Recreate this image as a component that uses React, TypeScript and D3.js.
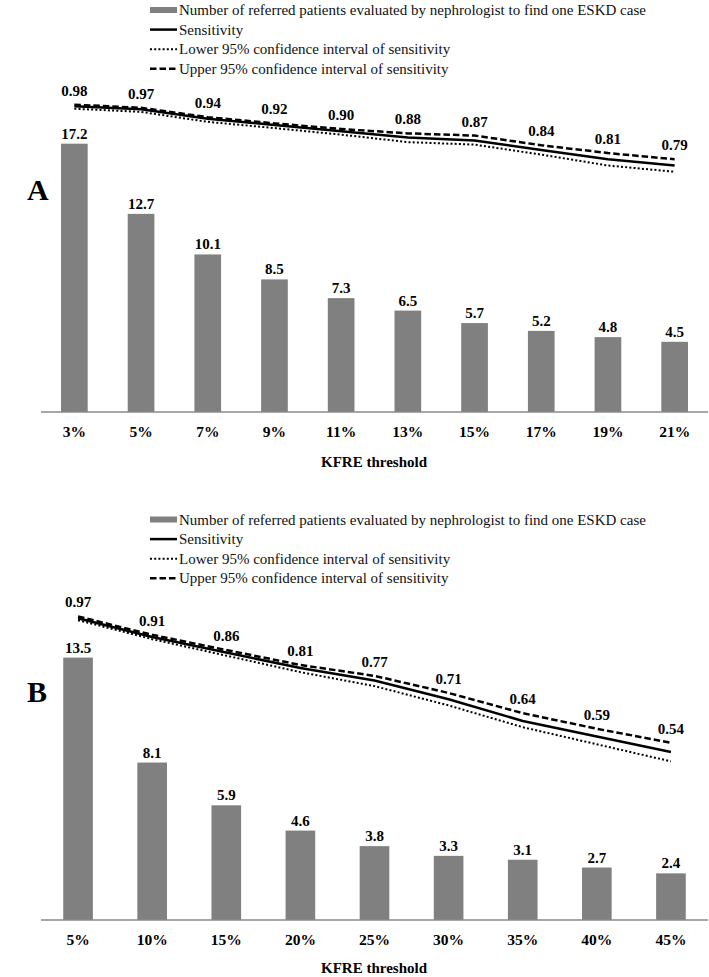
import React from 'react';
import * as d3 from 'd3';

const catsA = ['3%', '5%', '7%', '9%', '11%', '13%', '15%', '17%', '19%', '21%'];
const nnrA = [17.2, 12.7, 10.1, 8.5, 7.3, 6.5, 5.7, 5.2, 4.8, 4.5];
const sensA = [0.98, 0.97, 0.94, 0.92, 0.9, 0.88, 0.87, 0.84, 0.81, 0.79];
const upperA = [0.985, 0.975, 0.945, 0.925, 0.907, 0.893, 0.886, 0.855, 0.83, 0.81];
const lowerA = [0.972, 0.962, 0.93, 0.91, 0.889, 0.865, 0.857, 0.825, 0.79, 0.77];

const catsB = ['5%', '10%', '15%', '20%', '25%', '30%', '35%', '40%', '45%'];
const nnrB = [13.5, 8.1, 5.9, 4.6, 3.8, 3.3, 3.1, 2.7, 2.4];
const sensB = [0.97, 0.91, 0.86, 0.81, 0.77, 0.71, 0.64, 0.59, 0.54];
const upperB = [0.976, 0.917, 0.868, 0.82, 0.785, 0.73, 0.665, 0.615, 0.57];
const lowerB = [0.964, 0.903, 0.85, 0.797, 0.752, 0.69, 0.62, 0.565, 0.51];

const legendLabels = [
  'Number of referred patients evaluated by nephrologist to find one ESKD case',
  'Sensitivity',
  'Lower 95% confidence interval of sensitivity',
  'Upper 95% confidence interval of sensitivity',
];

const FONT = "'Liberation Serif', 'DejaVu Serif', 'Times New Roman', serif";
const BAR = '#808080';

type PanelProps = {
  letter: string;
  cats: string[];
  nnr: number[];
  sens: number[];
  upper: number[];
  lower: number[];
  top: number;
  bottom: number;
  yMax: number;
  legendY: number;
  tickY: number;
  titleY: number;
  letterY: number;
};

const bold = { fontFamily: FONT, fontWeight: 700 as const };

function Panel(p: PanelProps) {
  const x = d3.scaleBand<string>().domain(p.cats).range([41, 708]).paddingInner(0.6).paddingOuter(0.3);
  const yBar = d3.scaleLinear().domain([0, p.yMax]).range([p.bottom, p.top]);
  const ySens = d3.scaleLinear().domain([0, 1]).range([p.bottom, p.top]);
  const cx = (c: string) => (x(c) as number) + x.bandwidth() / 2;
  const line = d3
    .line<number>()
    .x((_, i) => cx(p.cats[i]))
    .y((d) => ySens(d));

  const lx0 = 150;
  const lx1 = 177;
  const rowGap = 19.6;
  return (
    <g>
      {/* legend */}
      <g>
        <rect x={lx0} y={p.legendY - 3} width={lx1 - lx0} height={6} fill={BAR} />
        <line x1={lx0} x2={lx1} y1={p.legendY + rowGap} y2={p.legendY + rowGap} stroke="#000" strokeWidth={2.5} />
        <line x1={lx0} x2={lx1} y1={p.legendY + rowGap * 2} y2={p.legendY + rowGap * 2} stroke="#000" strokeWidth={2} strokeDasharray="2,2.2" />
        <line x1={lx0} x2={lx1} y1={p.legendY + rowGap * 3} y2={p.legendY + rowGap * 3} stroke="#000" strokeWidth={2.5} strokeDasharray="6.5,3" />
        {legendLabels.map((t, i) => (
          <text
            key={t}
            x={179}
            y={p.legendY + rowGap * i}
            dominantBaseline="central"
            style={{ fontFamily: FONT, fontSize: 15 }}
            fill="#111"
          >
            {t}
          </text>
        ))}
      </g>

      {/* panel letter */}
      <text x={27} y={p.letterY} style={{ ...bold, fontSize: 30 }} fill="#000">
        {p.letter}
      </text>

      {/* bars */}
      {p.cats.map((c, i) => (
        <g key={c}>
          <rect x={x(c)} y={yBar(p.nnr[i])} width={x.bandwidth()} height={p.bottom - yBar(p.nnr[i])} fill={BAR} />
          <text
            x={cx(c)}
            y={yBar(p.nnr[i]) - 10}
            textAnchor="middle"
            dominantBaseline="central"
            style={{ ...bold, fontSize: 15 }}
            fill="#000"
          >
            {p.nnr[i].toFixed(1)}
          </text>
        </g>
      ))}

      {/* axis line */}
      <line x1={41} x2={708} y1={p.bottom} y2={p.bottom} stroke="#8a8a8a" strokeWidth={1.5} />

      {/* sensitivity lines */}
      <path d={line(p.lower) || ''} fill="none" stroke="#000" strokeWidth={2} strokeDasharray="2,2.2" />
      <path d={line(p.sens) || ''} fill="none" stroke="#000" strokeWidth={2.5} />
      <path d={line(p.upper) || ''} fill="none" stroke="#000" strokeWidth={2.5} strokeDasharray="6.5,3" />

      {/* sensitivity labels */}
      {p.cats.map((c, i) => (
        <text
          key={'s' + c}
          x={cx(c)}
          y={ySens(p.upper[i]) - 14}
          textAnchor="middle"
          dominantBaseline="central"
          style={{ ...bold, fontSize: 15 }}
          fill="#000"
        >
          {p.sens[i].toFixed(2)}
        </text>
      ))}

      {/* ticks */}
      {p.cats.map((c) => (
        <text
          key={'t' + c}
          x={cx(c)}
          y={p.tickY}
          textAnchor="middle"
          dominantBaseline="central"
          style={{ ...bold, fontSize: 15.5 }}
          fill="#000"
        >
          {c}
        </text>
      ))}
      <text
        x={374}
        y={p.titleY}
        textAnchor="middle"
        dominantBaseline="central"
        style={{ ...bold, fontSize: 15 }}
        fill="#000"
      >
        KFRE threshold
      </text>
    </g>
  );
}

export default function App() {
  return (
    <svg
      width={709}
      height={977}
      viewBox="0 0 709 977"
      style={{ position: 'absolute', left: 0, top: 0, background: '#fff', fontFamily: FONT }}
    >
      <rect x={0} y={0} width={709} height={977} fill="#fff" />
      <Panel
        letter="A"
        cats={catsA}
        nnr={nnrA}
        sens={sensA}
        upper={upperA}
        lower={lowerA}
        top={100}
        bottom={412}
        yMax={20}
        legendY={10}
        tickY={431}
        titleY={462}
        letterY={200}
      />
      <Panel
        letter="B"
        cats={catsB}
        nnr={nnrB}
        sens={sensB}
        upper={upperB}
        lower={lowerB}
        top={609}
        bottom={920}
        yMax={16}
        legendY={519.5}
        tickY={939}
        titleY={968}
        letterY={702}
      />
    </svg>
  );
}
